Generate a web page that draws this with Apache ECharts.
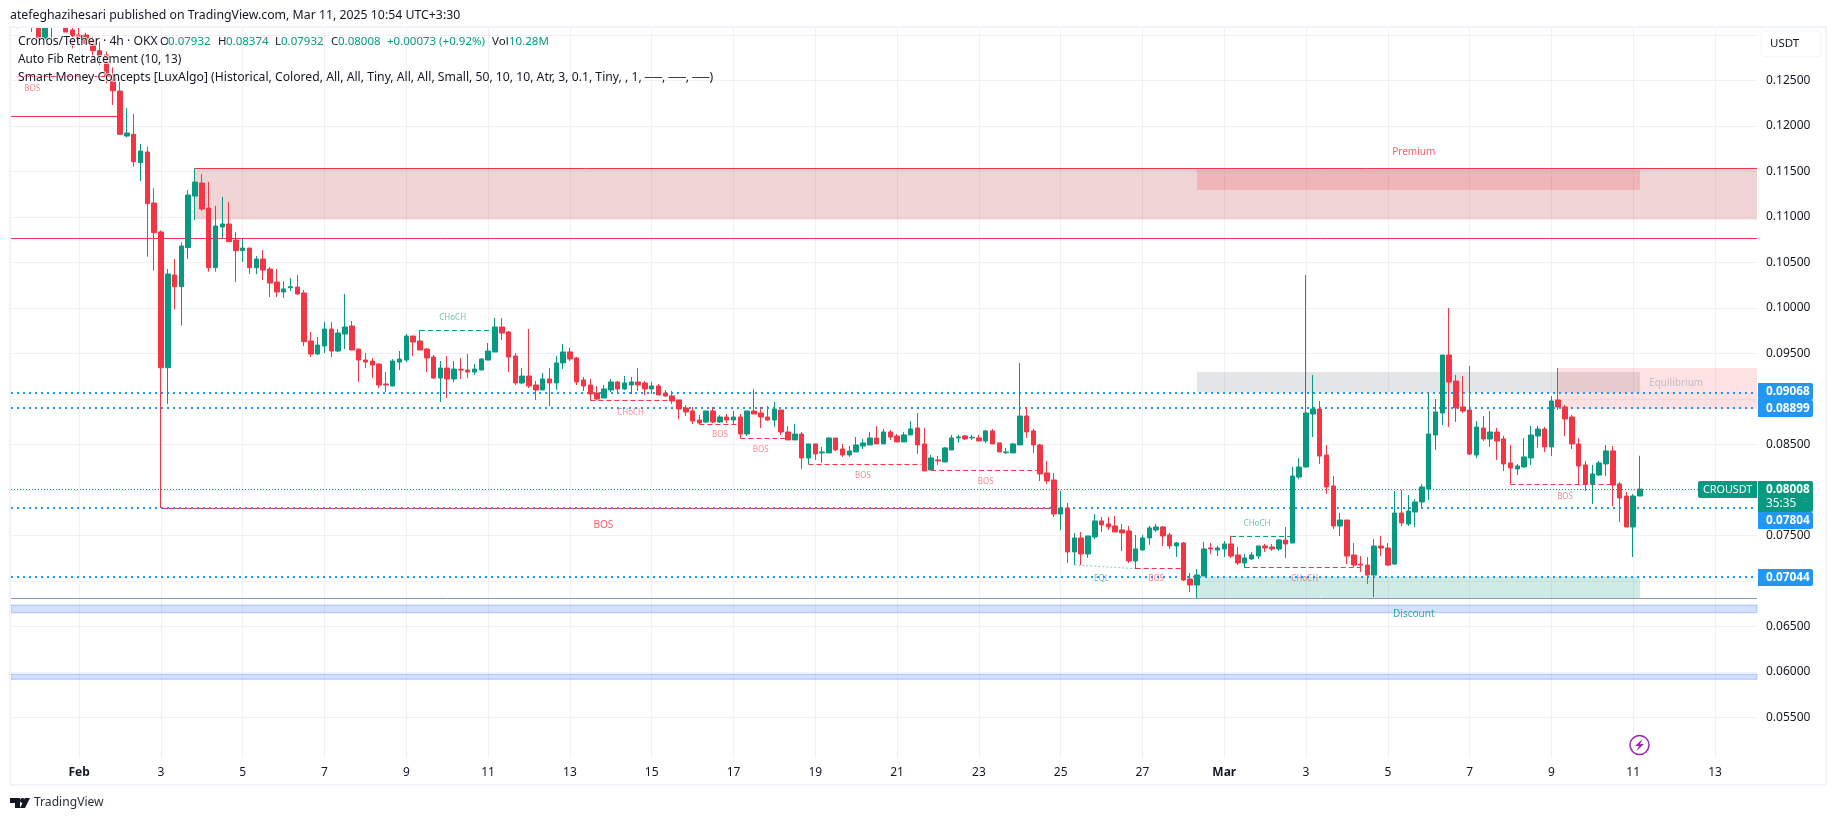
<!DOCTYPE html>
<html>
<head>
<meta charset="utf-8">
<style>html,body{margin:0;padding:0;background:#fff}#chart{width:1835px;height:821px}</style>
<script src="https://cdn.jsdelivr.net/npm/echarts@6/dist/echarts.min.js"></script>
</head>
<body>
<div id="chart"></div>
<script>
// 4h bars, bar 0 is Feb 1 00:00, six bars per day
var firstBar = -10;
var opens = [.1309,.1312,.1318,.1325,.1313,.12954,.1312,.1320,.1325,.13053,.12998,.12998,.12935,.12826,.12778,.12558,.12382,.11888,.11906,.11595,.11712,.11152,.10833,
.09342,.10360,.10232,.10661,.11228,.11371,.11097,.10441,.10888,.10921,.10745,.10628,.10657,.10441,.10536,.10426,.10283,.10174,.10221,.10228,.10163,.09635,.09492,.09580,.09767,.09525,.09712,.09800,.09547,.09426,.09415,.09382,.09163,.09141,.09404,.09426,.09690,.09635,.09547,.09459,.09228,.09338,.09218,.09324,.09316,.09294,.09316,.09426,.09514,.09789,.09734,.09470,.09174,.09250,
.09152,.09097,.09218,.09174,.09394,.09515,.09449,.09207,.09152,.09064,.09009,.09097,.09185,.09108,.09152,.09185,.09174,.09108,.09141,.09064,.09031,.08987,.08899,.08866,.08767,.08745,.08866,.08745,.08800,.08767,.08800,.08613,.08866,.08844,.08800,.08767,.08877,.08635,.08548,.08613,.08350,.08504,.08405,.08405,.08569,.08449,.08383,.08416,.08482,.08493,.08569,.08504,.08635,.08591,
.08526,.08603,.08680,.08504,.08218,.08328,.08306,.08438,.08570,.08592,.08570,.08570,.08537,.08647,.08515,.08408,.08405,.08493,.08811,.08647,.08493,.08185,.08108,.07734,.07800,.07317,.07471,.07295,.07482,.07658,.07625,.07603,.07559,.07548,.07218,.07339,.07471,.07559,.07592,.07504,.07383,.07416,.07020,.06954,.07053,.07361,.07339,.07350,.07405,.07284,.07196,.07240,.07273,.07383,.07372,.07350,
.07448,.07415,.08140,.08250,.08833,.08888,.08382,.08042,.07602,.07668,.07283,.07184,.07173,.07063,.07382,.07360,.07184,.07745,.07624,.07756,.07866,.08009,.08602,.08844,.09481,.09195,.08910,.08877,.08382,.08679,.08558,.08635,
.08559,.08295,.08229,.08251,.08350,.08591,.08668,.08471,.08987,.08910,.08800,.08504,.08273,.08064,.08163,.08284,.08427,.08064,.07932,.07591,.07932];
var highs = [.1320,.1322,.1330,.1330,.1320,.1322,.1325,.1330,.1330,.1312,.1310,.13023,.12979,.12924,.12815,.1264,.12522,.12192,.12130,.11800,.11771,.11313,.10850,
.10426,.10536,.10719,.11294,.11533,.11470,.11382,.11119,.11218,.11163,.10833,.10763,.10657,.10569,.10635,.10448,.10426,.10294,.10327,.10360,.10196,.09734,.09679,.09844,.09844,.09767,.10152,.09855,.09547,.09503,.09448,.09390,.09294,.09437,.09525,.09712,.09690,.09756,.09558,.09481,.09415,.09470,.09415,.09448,.09492,.09382,.09448,.09613,.09888,.09888,.09745,.09503,.09338,.09767,
.09196,.09284,.09339,.09471,.09602,.09559,.09460,.09240,.09218,.09141,.09152,.09218,.09196,.09251,.09240,.09339,.09196,.09185,.09163,.09097,.09086,.08987,.08932,.08910,.08822,.08866,.08910,.08822,.08833,.08866,.08833,.08866,.09108,.08910,.08921,.08965,.08877,.08701,.08723,.08635,.08504,.08504,.08471,.08580,.08569,.08504,.08482,.08580,.08559,.08635,.08701,.08668,.08657,.08613,
.08636,.08756,.08844,.08680,.08383,.08372,.08471,.08603,.08603,.08603,.08603,.08603,.08658,.08669,.08515,.08460,.08515,.09393,.08910,.08669,.08504,.08317,.08185,.07987,.07855,.07526,.07537,.07493,.07734,.07701,.07701,.07712,.07625,.07603,.07504,.07504,.07603,.07625,.07603,.07526,.07427,.07427,.07086,.07130,.07427,.07416,.07383,.07438,.07493,.07372,.07295,.07317,.07383,.07405,.07405,.07460,
.07591,.08250,.08349,.10360,.09261,.08976,.08492,.08151,.07745,.07668,.07415,.07272,.07261,.07459,.07492,.07415,.07987,.07998,.07943,.07899,.08063,.09063,.08998,.09481,.09998,.09261,.09250,.09360,.08756,.08811,.08866,.08679,
.08591,.08493,.08284,.08569,.08701,.08701,.08690,.09031,.09339,.08932,.08822,.08569,.08317,.08273,.08317,.08493,.08482,.08086,.07976,.07954,.08374];
var lows = [.13034,.1307,.1312,.1303,.12968,.12954,.12954,.1312,.1303,.12851,.12906,.12899,.12752,.12668,.12467,.12229,.11906,.11873,.11551,.11393,.10562,.10408,.0780,
.08943,.09983,.09804,.10536,.10965,.11067,.10397,.10397,.10763,.10727,.10283,.10503,.10371,.10371,.10305,.10119,.10119,.10108,.10185,.10141,.09580,.09459,.09481,.09503,.09459,.09514,.09547,.09536,.09185,.09338,.09228,.09119,.09075,.09141,.09316,.09404,.09470,.09536,.09294,.09218,.08965,.09009,.09185,.09218,.09228,.09261,.09316,.09426,.09514,.09646,.09294,.09152,.09163,.09119,
.08987,.09097,.08921,.09097,.09328,.09416,.09152,.09086,.08980,.08987,.09009,.09075,.09064,.09097,.09053,.09086,.09042,.09053,.09042,.09020,.08943,.08778,.08811,.08723,.08723,.08734,.08734,.08734,.08734,.08723,.08569,.08591,.08833,.08679,.08756,.08690,.08602,.08548,.08548,.08229,.08284,.08328,.08295,.08405,.08427,.08361,.08361,.08416,.08449,.08493,.08504,.08504,.08548,.08526,
.08526,.08603,.08394,.08207,.08218,.08273,.08306,.08438,.08515,.08548,.08548,.08537,.08515,.08504,.08416,.08394,.08405,.08493,.08570,.08405,.08097,.08064,.07701,.07559,.07196,.07174,.07174,.07251,.07460,.07537,.07559,.07537,.07328,.07196,.07130,.07328,.07394,.07537,.07383,.07350,.07262,.06998,.06877,.06811,.07053,.07295,.07273,.07262,.07251,.07174,.07141,.07229,.07240,.07317,.07328,.07328,
.07250,.07415,.08118,.08250,.08580,.08283,.07954,.07569,.07492,.07184,.07151,.07096,.06965,.06822,.07272,.07162,.07173,.07602,.07602,.07591,.07800,.07888,.08437,.08712,.08690,.08745,.08844,.08382,.08349,.08536,.08470,.08327,
.08207,.08064,.08163,.08240,.08273,.08460,.08416,.08372,.08877,.08591,.08449,.08064,.07987,.07844,.08152,.08152,.07822,.07646,.07591,.07262,.07932];
var closes = [.1315,.1318,.1325,.1313,.12968,.1316,.1320,.1325,.1303,.12990,.12968,.12906,.12826,.12771,.12547,.12386,.11906,.11921,.11606,.11723,.11144,.10826,.09342,
.10371,.10232,.10679,.11239,.11382,.11086,.10441,.10899,.10921,.10727,.10628,.10657,.10441,.10536,.10415,.10272,.10174,.10207,.10232,.10152,.09628,.09492,.09591,.09767,.09525,.09723,.09789,.09536,.09426,.09404,.09371,.09152,.09152,.09415,.09437,.09690,.09624,.09536,.09448,.09228,.09338,.09218,.09327,.09316,.09294,.09327,.09437,.09525,.09789,.09723,.09459,.09174,.09250,.09141,
.09097,.09218,.09174,.09394,.09515,.09438,.09185,.09141,.09053,.08998,.09108,.09185,.09108,.09174,.09185,.09152,.09108,.09141,.09042,.09031,.08976,.08888,.08855,.08756,.08734,.08866,.08745,.08800,.08767,.08800,.08613,.08866,.08833,.08800,.08767,.08888,.08635,.08548,.08613,.08350,.08504,.08394,.08416,.08569,.08438,.08383,.08427,.08493,.08515,.08569,.08504,.08635,.08580,.08526,
.08603,.08669,.08493,.08207,.08350,.08317,.08460,.08570,.08581,.08559,.08577,.08537,.08647,.08504,.08416,.08416,.08504,.08811,.08636,.08493,.08174,.08097,.07734,.07800,.07317,.07471,.07295,.07493,.07658,.07614,.07592,.07537,.07526,.07218,.07350,.07471,.07581,.07592,.07493,.07383,.07416,.07009,.06954,.07064,.07350,.07350,.07361,.07405,.07273,.07196,.07251,.07284,.07383,.07361,.07350,.07449,
.07404,.08151,.08250,.08844,.08888,.08371,.08031,.07602,.07668,.07272,.07173,.07173,.07063,.07382,.07360,.07173,.07745,.07635,.07767,.07866,.08031,.08613,.08855,.09481,.09184,.08899,.08866,.08393,.08690,.08558,.08635,.08536,
.08284,.08240,.08262,.08361,.08602,.08668,.08471,.08976,.08910,.08778,.08504,.08262,.08064,.08174,.08295,.08427,.08053,.07910,.07591,.07932,.08008];
// time scale ticks, every two days
var tickBars = [0,12,24,36,48,60,72,84,96,108,120,132,144,156,168,180,192,204,216,228,240];
var tickLabels = ['Feb','3','5','7','9','11','13','15','17','19','21','23','25','27','Mar','3','5','7','9','11','13'];
// price scale
var gridPrices = [.13,.125,.12,.115,.11,.105,.10,.095,.09,.085,.08,.075,.07,.065,.06,.055];
var labelPrices = [.125,.12,.115,.11,.105,.10,.095,.085,.075,.065,.06,.055];
var fibLevels = [.09068,.08899,.07804,.07044];
var lastPrice = .08008;

var RED = '#F23645', GREEN = '#089981', BLUE = '#2196F3';
var FONT = '"Noto Sans", sans-serif';
var xEnd = 246.16;

function seg(x1, y1, x2, y2, style) {
    return [{coord: [x1, y1], lineStyle: style}, {coord: [x2, y2]}];
}
function box(x1, y1, x2, y2, color, border) {
    var s = {color: color};
    if (border) { s.borderColor = border; s.borderWidth = 1; }
    return [{coord: [x1, y1], itemStyle: s}, {coord: [x2, y2]}];
}
function txt(bar, price, text, color, size) {
    return {value: [bar, price], name: text, label: {color: color, fontSize: size}};
}

var solidRed = {color: RED, width: 1, type: 'solid'};
var dashRed = {color: RED, width: 1, type: [5, 3]};
var dashGreen = {color: GREEN, width: 1, type: [5, 3]};
var dots = {color: BLUE, width: 2, type: [2, 4]};

var levelLines = [
    seg(-9, .12542, 5, .12542, solidRed),
    seg(-10, .12102, 6, .12102, solidRed),
    seg(17, .11531, xEnd, .11531, solidRed),
    seg(-10, .10762, xEnd, .10762, solidRed),
    seg(12, .07795, 143, .07795, solidRed),
    seg(-10, .06805, xEnd, .06805, {color: '#8c96b8', width: 1, type: 'solid'}),
    seg(50, .09751, 61, .09751, dashGreen),
    seg(75, .08981, 87, .08981, dashRed),
    seg(91, .08718, 96.5, .08718, dashRed),
    seg(97, .08564, 103.7, .08564, dashRed),
    seg(107, .08278, 123.6, .08278, dashRed),
    seg(125, .08212, 140.5, .08212, dashRed),
    seg(146, .07174, 155, .07133, {color: 'rgba(8,153,129,0.5)', width: 1, type: [2, 2]}),
    seg(155, .07135, 162, .07135, dashRed),
    seg(169, .07487, 178, .07487, dashGreen),
    seg(171, .07146, 188, .07146, dashRed),
    seg(210, .08058, 225, .08058, dashRed)
];
fibLevels.forEach(function (p) { levelLines.push(seg(-10, p, xEnd, p, dots)); });
levelLines.push(seg(-10, lastPrice, xEnd, lastPrice, {color: GREEN, width: 1, type: [1, 2]}));

var zones = [
    box(17, .11531, xEnd, .10971, 'rgba(178,40,51,0.2)'),
    box(164, .1152, 229, .11294, 'rgba(242,54,69,0.2)'),
    box(164, .09295, 229, .09068, 'rgba(120,123,134,0.2)'),
    box(217, .09339, xEnd, .08889, 'rgba(242,54,69,0.15)'),
    box(164, .07044, 229, .06811, 'rgba(8,153,129,0.2)'),
    box(-10, .06734, xEnd, .06649, 'rgba(41,98,255,0.2)', 'rgba(41,98,255,0.3)'),
    box(-10, .05972, xEnd, .05918, 'rgba(41,98,255,0.2)', 'rgba(41,98,255,0.3)')
];

var pinkText = 'rgba(242,54,69,0.75)', mintText = 'rgba(8,153,129,0.75)';
var smcLabels = [
    txt(-6.9, .12409, 'BOS', pinkText, 8),
    txt(54.8, .09888, 'CHoCH', mintText, 8),
    txt(80.9, .08847, 'CHoCH', pinkText, 8),
    txt(94, .08602, 'BOS', pinkText, 8),
    txt(100, .08437, 'BOS', pinkText, 8),
    txt(115, .08152, 'BOS', pinkText, 8),
    txt(133, .08086, 'BOS', pinkText, 8),
    txt(150, .0702, 'EQL', mintText, 8),
    txt(158, .0702, 'BOS', pinkText, 8),
    txt(172.8, .07624, 'CHoCH', mintText, 8),
    txt(179.8, .0702, 'CHoCH', pinkText, 8),
    txt(218, .07921, 'BOS', pinkText, 8),
    txt(76.9, .07613, 'BOS', RED, 10),
    txt(195.8, .11712, 'Premium', RED, 10),
    txt(234.3, .09174, 'Equilibrium', '#b2b5be', 10),
    txt(195.8, .06636, 'Discount', GREEN, 10)
];

var bars = opens.map(function (o, i) {
    return [firstBar + i, o, closes[i], lows[i], highs[i]];
});

// page furniture drawn on top of the chart
function label(x, y, text, size, color, extra) {
    var st = {x: x, y: y, text: text, fontSize: size, fill: color, fontFamily: FONT, verticalAlign: 'middle'};
    for (var k in extra) st[k] = extra[k];
    return {type: 'text', silent: true, z: 30, style: st};
}
function tag(y, h, color) {
    return {type: 'rect', silent: true, z: 29, shape: {x: 1758, y: y, width: 55, height: h, r: [0, 2, 2, 0]}, style: {fill: color}};
}
var halo = {stroke: 'rgba(255,255,255,0.8)', lineWidth: 2};
var furniture = [
    // candles above the pane are hidden under this strip
    {type: 'rect', silent: true, z: 27, shape: {x: 0, y: 0, width: 1835, height: 27}, style: {fill: '#fff'}},
    {type: 'rect', silent: true, z: 28, shape: {x: 10, y: 27, width: 1816, height: 758}, style: {fill: 'none', stroke: '#f0f3fa', lineWidth: 2}},
    label(10, 15, 'atefeghazihesari published on TradingView.com, Mar 11, 2025 10:54 UTC+3:30', 12.3, '#131722'),
    label(18, 42, 'Cronos/Tether \u00b7 4h \u00b7 OKX', 12.2, '#131722', halo),
    label(160, 42, 'O', 11.5, '#131722', halo), label(168, 42, '0.07932', 11.5, GREEN, halo),
    label(218, 42, 'H', 11.5, '#131722', halo), label(226, 42, '0.08374', 11.5, GREEN, halo),
    label(275, 42, 'L', 11.5, '#131722', halo), label(281, 42, '0.07932', 11.5, GREEN, halo),
    label(331, 42, 'C', 11.5, '#131722', halo), label(338, 42, '0.08008', 11.5, GREEN, halo),
    label(387, 42, '+0.00073 (+0.92%)', 11.5, GREEN, halo),
    label(492, 42, 'Vol', 11.5, '#131722', halo), label(509, 42, '10.28M', 11.5, GREEN, halo),
    label(18, 60, 'Auto Fib Retracement (10, 13)', 11.8, '#131722', halo),
    label(18, 78, 'Smart Money Concepts [LuxAlgo] (Historical, Colored, All, All, Tiny, All, All, Small, 50, 10, 10, Atr, 3, 0.1, Tiny, , 1, \u2500\u2500, \u2500\u2500, \u2500\u2500)', 12.2, '#131722', halo),
    {type: 'rect', silent: true, z: 29, shape: {x: 1761, y: 31, width: 60, height: 26, r: 4}, style: {fill: '#fff', stroke: '#f0f3fa', lineWidth: 1}},
    label(1770, 44, 'USDT', 11.5, '#131722'),
    tag(383, 17, BLUE), tag(400, 17, BLUE), tag(512, 17, BLUE), tag(569, 17, BLUE),
    tag(481, 31, GREEN),
    {type: 'rect', silent: true, z: 29, shape: {x: 1698, y: 481, width: 59, height: 17, r: [2, 0, 0, 2]}, style: {fill: GREEN}},
    label(1703, 489.5, 'CROUSDT', 10.8, '#fff'),
    label(1766, 391.5, '0.09068', 11.8, '#fff', {fontWeight: 'bold'}),
    label(1766, 408.5, '0.08899', 11.8, '#fff', {fontWeight: 'bold'}),
    label(1766, 489.5, '0.08008', 11.8, '#fff', {fontWeight: 'bold'}),
    label(1766, 503.5, '35:35', 11.8, '#fff'),
    label(1766, 520.5, '0.07804', 11.8, '#fff', {fontWeight: 'bold'}),
    label(1766, 577.5, '0.07044', 11.8, '#fff', {fontWeight: 'bold'}),
    {type: 'circle', silent: true, z: 30, shape: {cx: 1639.5, cy: 745, r: 9.5}, style: {fill: '#fff', stroke: '#9c27b0', lineWidth: 1.5}},
    {type: 'polygon', silent: true, z: 30, shape: {points: [[1642.5, 739], [1635, 746], [1639, 746], [1636.5, 751], [1644, 744], [1640, 744]]}, style: {fill: '#9c27b0'}},
    {type: 'polygon', silent: true, z: 30, shape: {points: [[10, 798], [20, 798], [20, 808], [15, 808], [15, 803], [10, 803]]}, style: {fill: '#131722'}},
    {type: 'circle', silent: true, z: 30, shape: {cx: 22.5, cy: 800.5, r: 2.5}, style: {fill: '#131722'}},
    {type: 'polygon', silent: true, z: 30, shape: {points: [[25, 798], [30, 798], [25, 808], [20, 808]]}, style: {fill: '#131722'}},
    label(34, 803, 'TradingView', 12.1, '#2a2e39')
];

var chart = echarts.init(document.getElementById('chart'), null, {renderer: 'canvas'});
var option = {
    animation: false,
    backgroundColor: '#fff',
    textStyle: {fontFamily: FONT},
    grid: {left: 11, right: 78, top: 28, height: 730},
    xAxis: {
        type: 'value', min: firstBar, max: xEnd,
        axisLine: {show: false},
        axisTick: {show: false, customValues: tickBars},
        splitLine: {show: true, lineStyle: {color: '#f0f1f4', width: 1}},
        axisLabel: {
            customValues: tickBars, margin: 9, fontSize: 12, color: '#131722',
            formatter: function (v) {
                var s = tickLabels[tickBars.indexOf(v)];
                return (s == 'Feb' || s == 'Mar') ? '{b|' + s + '}' : s;
            },
            rich: {b: {fontWeight: 'bold', fontSize: 12, color: '#131722', fontFamily: FONT}}
        }
    },
    yAxis: {
        type: 'value', position: 'right', scale: true,
        min: .050527, max: .130747,
        axisLine: {show: false},
        axisTick: {show: false, customValues: gridPrices},
        splitLine: {show: true, lineStyle: {color: '#f0f1f4', width: 1}},
        axisLabel: {
            customValues: labelPrices, margin: 9, fontSize: 12, color: '#131722',
            formatter: function (v) { return v.toFixed(5); }
        }
    },
    graphic: {elements: furniture},
    series: [
        {
            type: 'line', data: [], z: 1, silent: true,
            markArea: {silent: true, z: 1, data: zones},
            markLine: {silent: true, z: 1, symbol: 'none', animation: false, label: {show: false}, data: levelLines}
        },
        {
            type: 'candlestick', z: 2, barWidth: 5,
            encode: {x: 0, y: [1, 2, 3, 4]},
            itemStyle: {color: GREEN, color0: RED, borderColor: GREEN, borderColor0: RED, borderWidth: 1},
            data: bars
        },
        {
            type: 'scatter', z: 3, symbolSize: 0, silent: true, data: smcLabels,
            label: {show: true, position: 'inside', fontFamily: FONT, formatter: function (p) { return p.name; }}
        }
    ]
};
chart.setOption(option);
</script>
</body>
</html>
